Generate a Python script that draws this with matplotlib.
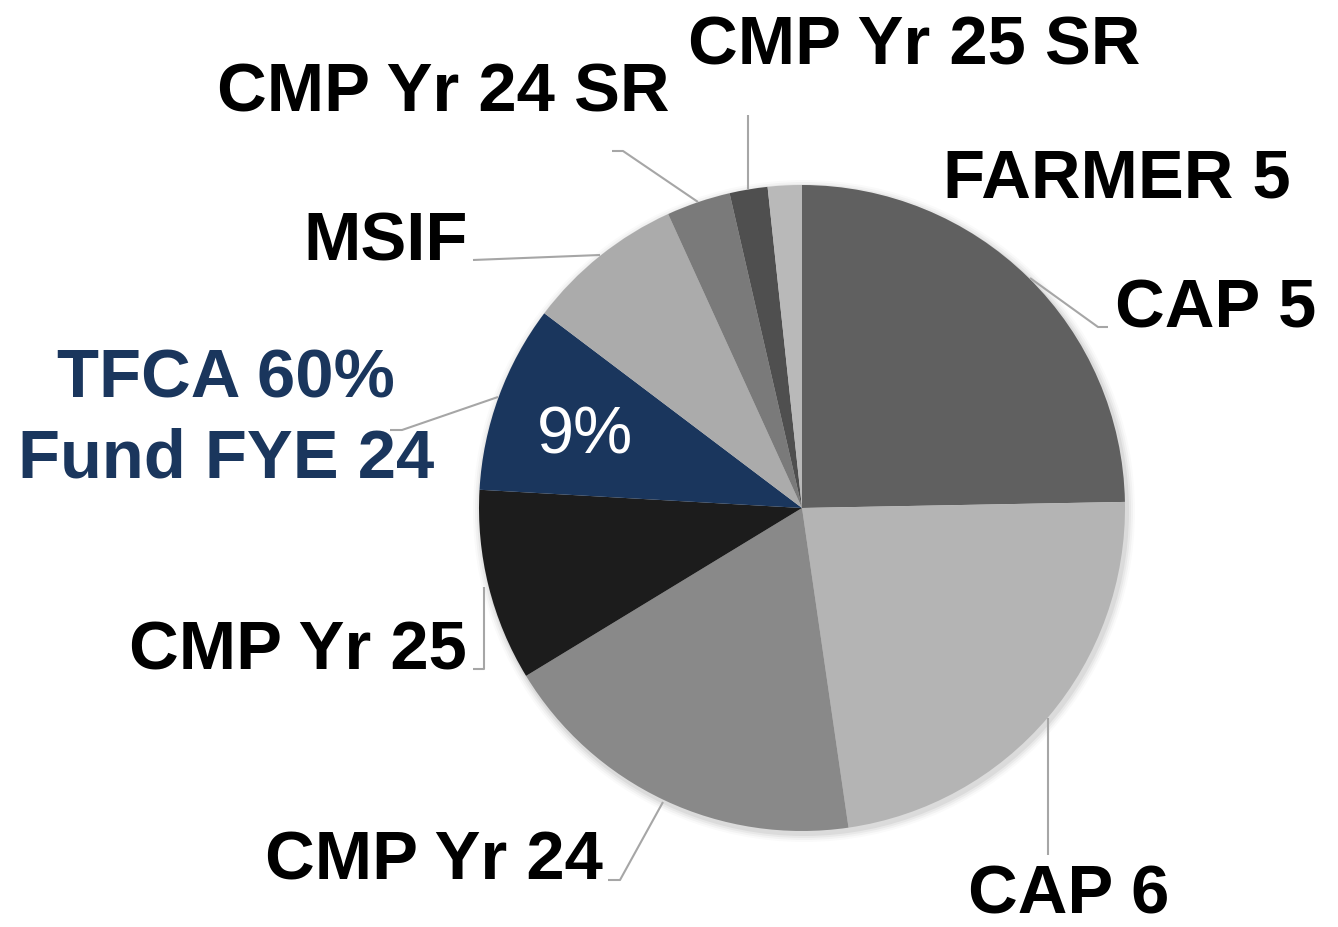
import matplotlib.pyplot as plt
from matplotlib.patches import Circle

# slice data, clockwise from 12 o'clock
labels = ["CAP 5", "CAP 6", "CMP Yr 24", "CMP Yr 25", "TFCA 60%\nFund FYE 24",
          "MSIF", "CMP Yr 24 SR", "CMP Yr 25 SR", "FARMER 5"]
shares = [24.7, 23.0, 18.6, 9.6, 9.4, 7.9, 3.2, 1.9, 1.7]
colors = ["#606060", "#b4b4b4", "#898989", "#1c1c1c", "#1a365d",
          "#ababab", "#7a7a7a", "#4f4f4f", "#b9b9b9"]

W, H = 1338, 927
NAVY = "#1a365d"
LINE = "#a6a6a6"

plt.rcParams["font.family"] = ["Liberation Sans", "DejaVu Sans"]

fig = plt.figure(figsize=(W / 100, H / 100), dpi=100)
ax = fig.add_axes([0, 0, 1, 1])


def Y(y):
    # pixel row (top-down) -> data y
    return H - y


cx, cy, r = 802, Y(508), 323

# soft shadow behind the pie
for i, a in enumerate([0.05, 0.04, 0.03, 0.02]):
    ax.add_patch(Circle((cx + 2, cy - 3), r + 2 + i * 2, color="black", alpha=a, lw=0, zorder=0))

wedges, _ = ax.pie(shares, colors=colors, startangle=90, counterclock=False,
                   center=(cx, cy), radius=r, wedgeprops=dict(linewidth=0))
for w in wedges:
    w.set_zorder(1)

ax.set_xlim(0, W)
ax.set_ylim(0, H)
ax.axis("off")

fs = 49.5
bold = dict(fontsize=fs, fontweight="bold", va="baseline", color="black")

ax.text(688, Y(64), labels[7], ha="left", **bold)
ax.text(217, Y(111), labels[6], ha="left", **bold)
ax.text(943, Y(197), labels[8], ha="left", **bold)
ax.text(1115, Y(327), labels[0], ha="left", **bold)
ax.text(468, Y(260), labels[5], ha="right", **bold)
ax.text(226, Y(397), labels[4].split("\n")[0], ha="center", fontsize=fs,
        fontweight="bold", va="baseline", color=NAVY)
ax.text(226, Y(477), labels[4].split("\n")[1], ha="center", fontsize=fs,
        fontweight="bold", va="baseline", color=NAVY)
ax.text(467, Y(670), labels[3], ha="right", **bold)
ax.text(603, Y(880), labels[2], ha="right", **bold)
ax.text(968, Y(913), labels[1], ha="left", **bold)

# percentage label inside the highlighted slice
ax.text(585, Y(453), f"{round(shares[4])}%", ha="center", va="baseline",
        fontsize=48, color="white", zorder=3)

# leader lines
leaders = [
    [(1030, 278), (1098, 327), (1108, 327)],
    [(612, 151), (623, 151), (698, 202)],
    [(748, 115), (748, 189)],
    [(473, 260), (600, 255)],
    [(390, 430), (402, 430), (498, 397)],
    [(473, 669), (484, 669), (484, 587)],
    [(608, 880), (620, 880), (663, 802)],
    [(1048, 718), (1048, 855)],
]
for pts in leaders:
    ax.plot([p[0] for p in pts], [Y(p[1]) for p in pts], color=LINE, lw=1.5,
            solid_capstyle="butt", zorder=2)

fig.savefig("out.png", dpi=100)
